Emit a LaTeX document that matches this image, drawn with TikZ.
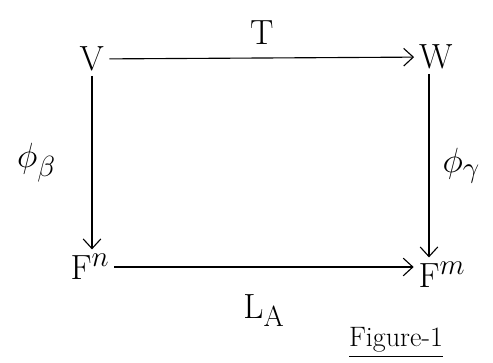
\documentclass[tikz,border=0pt]{standalone}
\usepackage{amsmath,amssymb}
\usepackage{tikz}
\usetikzlibrary{arrows.meta,positioning}

\begin{document}
\begin{tikzpicture}[every node/.style={font=\fontsize{32}{36}\selectfont},
  maparrow/.style={thick,-{Straight Barb[length=2.4mm,width=4.4mm]}}]
  \useasboundingbox (0,0) rectangle (12.325,9.075);
  % Spaces
  \node (V) at (2.3,7.6) {$\mathrm{V}$};
  \node (W) at (10.9,7.65) {$\mathrm{W}$};
  \node (Fn) at (2.25,2.4) {$\mathrm{F}^n$};
  \node (Fm) at (11.05,2.2) {$\mathrm{F}^m$};
  % Maps
  \draw[maparrow] (V) -- (W) node[midway,above=6pt]{$\mathrm{T}$};
  \draw[maparrow] (V.south) -- (V.south |- Fn.north) node[midway,left=22pt]{$\phi_\beta$};
  \draw[maparrow] ([xshift=-5pt]W.south) -- ([xshift=-5pt]W.south |- Fm.north)
    node[midway,right=6pt]{$\phi_\gamma$};
  \draw[maparrow] (Fn) -- (Fn -| Fm.west) node[midway,below=16pt]{$\mathrm{L}_\mathrm{A}$};
  % Caption
  \node (cap) at (9.9,0.5) {\fontsize{20}{22}\selectfont\underline{Figure-1}};
\end{tikzpicture}
\end{document}
